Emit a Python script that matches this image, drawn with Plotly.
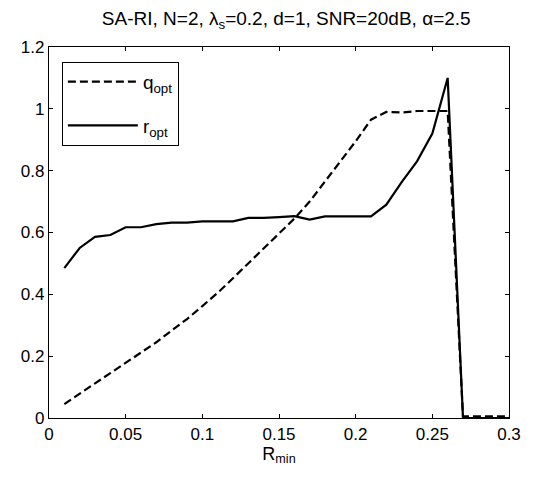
import plotly.graph_objects as go

r_min = [0.01, 0.02, 0.03, 0.04, 0.05, 0.06, 0.07, 0.08, 0.09, 0.10,
         0.11, 0.12, 0.13, 0.14, 0.15, 0.16, 0.17, 0.18, 0.19, 0.20,
         0.21, 0.22, 0.23, 0.24, 0.25, 0.26, 0.27, 0.28, 0.29, 0.30]
q_opt = [0.045, 0.080, 0.112, 0.145, 0.178, 0.210, 0.245, 0.283, 0.320, 0.362,
         0.405, 0.452, 0.500, 0.550, 0.598, 0.645, 0.700, 0.765, 0.830, 0.895,
         0.965, 0.990, 0.988, 0.993, 0.993, 0.993, 0.005, 0.005, 0.005, 0.005]
r_opt = [0.485, 0.550, 0.586, 0.592, 0.617, 0.617, 0.627, 0.632, 0.632, 0.636,
         0.636, 0.636, 0.647, 0.647, 0.650, 0.653, 0.642, 0.652, 0.652, 0.652,
         0.652, 0.690, 0.763, 0.830, 0.920, 1.100, 0.000, 0.000, 0.000, 0.000]

x_ticks = [0, 0.05, 0.1, 0.15, 0.2, 0.25, 0.3]
x_ticklabels = ["0", "0.05", "0.1", "0.15", "0.2", "0.25", "0.3"]
y_ticks = [0, 0.2, 0.4, 0.6, 0.8, 1.0, 1.2]
y_ticklabels = ["0", "0.2", "0.4", "0.6", "0.8", "1", "1.2"]

FONT = "Liberation Sans, Arial, sans-serif"

fig = go.Figure()
fig.add_trace(go.Scatter(x=r_min, y=q_opt, mode="lines", name="q<sub>opt</sub>",
                         legendgroup="q",
                         line=dict(color="black", width=2.2, dash="8px,4px")))
fig.add_trace(go.Scatter(x=r_min, y=r_opt, mode="lines", name="r<sub>opt</sub>",
                         legendgroup="r",
                         line=dict(color="black", width=2.2)))

axis_common = dict(showline=True, linecolor="black", linewidth=1.2, mirror="ticks",
                   ticks="inside", ticklen=4, tickcolor="black", showgrid=False,
                   zeroline=False, tickfont=dict(family=FONT, size=17, color="black"))

fig.update_xaxes(range=[0, 0.3], tickvals=x_ticks, ticktext=x_ticklabels,
                 title=dict(text="R<sub>min</sub>", font=dict(family=FONT, size=18, color="black"), standoff=4),
                 **axis_common)
fig.update_yaxes(range=[0, 1.2], tickvals=y_ticks, ticktext=y_ticklabels, **axis_common)

fig.update_layout(
    width=525, height=473,
    margin=dict(l=41, r=20, t=39, b=63),
    paper_bgcolor="white", plot_bgcolor="white",
    title=dict(text="SA-RI, N=2, λ<sub>s</sub>=0.2, d=1, SNR=20dB, α=2.5",
               x=0.53, xanchor="center", y=0.978, yanchor="middle",
               font=dict(family=FONT, size=19, color="black")),
    legend=dict(x=0.028, y=0.96, xanchor="left", yanchor="top",
                bordercolor="black", borderwidth=1, bgcolor="white",
                font=dict(family=FONT, size=19, color="black"),
                tracegroupgap=16, itemwidth=70),
    showlegend=True,
)

fig.write_html("out.html")
